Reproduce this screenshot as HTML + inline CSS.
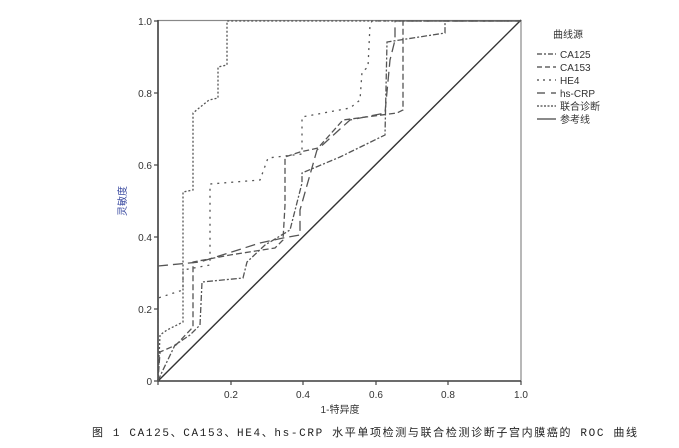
<!DOCTYPE html><html><head><meta charset="utf-8"><style>
body{margin:0;background:#fff;width:679px;height:443px;overflow:hidden}
text{font-family:"Liberation Sans","Noto Sans CJK SC",sans-serif}
</style></head><body>
<svg width="679" height="443" xmlns="http://www.w3.org/2000/svg">
<rect x="158" y="20.5" width="363" height="360.5" fill="none" stroke="#888" stroke-width="1.2"/>
<line x1="158" y1="20" x2="158" y2="381" stroke="#444" stroke-width="1.6"/>
<line x1="158" y1="381" x2="521" y2="381" stroke="#444" stroke-width="1.6"/>
<g stroke="#444" stroke-width="1.2">
<line x1="154" y1="381" x2="158" y2="381"/><line x1="154" y1="309" x2="158" y2="309"/><line x1="154" y1="237" x2="158" y2="237"/><line x1="154" y1="165" x2="158" y2="165"/><line x1="154" y1="93" x2="158" y2="93"/><line x1="154" y1="21" x2="158" y2="21"/>
<line x1="158" y1="381" x2="158" y2="385"/><line x1="231" y1="381" x2="231" y2="385"/><line x1="303" y1="381" x2="303" y2="385"/><line x1="376" y1="381" x2="376" y2="385"/><line x1="448" y1="381" x2="448" y2="385"/><line x1="521" y1="381" x2="521" y2="385"/>
</g>
<g font-size="10" fill="#333" text-anchor="end">
<text x="152" y="385">0</text><text x="152" y="313">0.2</text><text x="152" y="241">0.4</text><text x="152" y="169">0.6</text><text x="152" y="97">0.8</text><text x="152" y="25">1.0</text>
</g>
<g font-size="10" fill="#333" text-anchor="middle">
<text x="231" y="398">0.2</text><text x="303" y="398">0.4</text><text x="376" y="398">0.6</text><text x="448" y="398">0.8</text><text x="521" y="398">1.0</text>
</g>
<text x="340" y="413" font-size="10" fill="#333" text-anchor="middle">1-特异度</text>
<text transform="translate(126,201) rotate(-90)" font-size="10" fill="#3a4aa0" text-anchor="middle">灵敏度</text>
<line x1="158" y1="381" x2="521" y2="20" stroke="#333" stroke-width="1.4"/>
<g fill="none" stroke="#555" stroke-width="1.3">
<polyline stroke-dasharray="2,2" points="158,381 160,335 167,330 183,322 183,192 193,190 193,113 209,100 218,98 218,67 227,65 227,21 521,21"/>
<polyline stroke-dasharray="2,5" points="158,381 158,298 183,290 183,270 210,265 210,184 260,180 268,158 302,154 302,117 350,108 360,100 362,72 368,67 370,25 372,21 521,21"/>
<polyline stroke-dasharray="6,2,2,2" points="158,381 162,372 175,345 190,335 200,325 202,282 243,278 247,262 265,245 290,230 302,183 302,173 340,157 385,135 387,42 445,33 445,21 521,21"/>
<polyline stroke-dasharray="6,3" points="158,381 160,352 176,345 193,327 193,262 230,255 275,248 283,240 285,205 285,157 300,152 318,148 343,120 397,113 403,110 403,21 521,21"/>
<polyline stroke-dasharray="10,5" points="158,266 200,262 260,243 283,238 300,235 300,210 317,150 350,120 385,113 390,60 395,40 395,21 521,21"/>
</g>
<text x="553" y="38" font-size="10" fill="#333">曲线源</text>
<g stroke="#444" stroke-width="1.3">
<line x1="537" y1="54" x2="556" y2="54" stroke-dasharray="5,2,2,2"/>
<line x1="537" y1="67" x2="556" y2="67" stroke-dasharray="5,3"/>
<line x1="537" y1="80" x2="556" y2="80" stroke-dasharray="2,4"/>
<line x1="537" y1="93" x2="556" y2="93" stroke-dasharray="8,6"/>
<line x1="537" y1="106" x2="556" y2="106" stroke-dasharray="2,1.5"/>
<line x1="537" y1="119" x2="556" y2="119"/>
</g>
<g font-size="10" fill="#333">
<text x="560" y="58">CA125</text><text x="560" y="71">CA153</text><text x="560" y="84">HE4</text><text x="560" y="97">hs-CRP</text><text x="560" y="110">联合诊断</text><text x="560" y="123">参考线</text>
</g>
<text x="92" y="436" font-size="11" fill="#222" textLength="545" lengthAdjust="spacing" style="font-family:'Liberation Mono','Noto Sans CJK SC',monospace">图 1  CA125、CA153、HE4、hs-CRP 水平单项检测与联合检测诊断子宫内膜癌的 ROC 曲线</text>
</svg>
</body></html>
